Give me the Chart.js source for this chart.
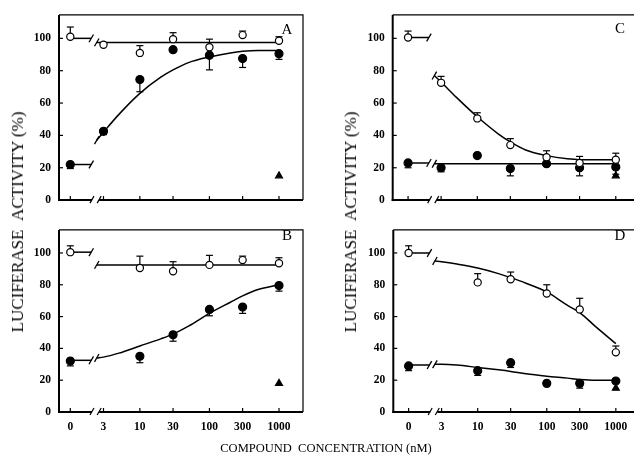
<!DOCTYPE html>
<html>
<head>
<meta charset="utf-8">
<script src="https://cdn.jsdelivr.net/npm/chart.js@4.4.0/dist/chart.umd.min.js"></script>
<style>
  html, body { margin: 0; padding: 0; background: #fff; }
  body { width: 634px; height: 460px; position: relative; overflow: hidden; font-family: "Liberation Serif", "DejaVu Serif", serif; color: #000; }
  canvas { position: absolute; }
  .lbl { position: absolute; white-space: nowrap; transform: translate(-50%, -50%); }
  .ytitle { position: absolute; white-space: nowrap; font-size: 17px; transform: translate(-50%, -50%) rotate(-90deg); }
  .xtitle { position: absolute; white-space: nowrap; font-size: 12.5px; letter-spacing: 0; transform: translate(-50%, -50%); }
  .letter { font-size: 15px; }
</style>
</head>
<body>
<canvas id="panelA" width="317" height="215" style="left:0;top:0"></canvas>
<canvas id="panelB" width="317" height="245" style="left:0;top:215px"></canvas>
<canvas id="panelC" width="330" height="215" style="left:317px;top:0"></canvas>
<canvas id="panelD" width="330" height="245" style="left:317px;top:215px"></canvas>

<div class="ytitle" style="left:18px;top:222px">LUCIFERASE&nbsp;&nbsp;ACTIVITY (%)</div>
<div class="ytitle" style="left:351px;top:222px">LUCIFERASE&nbsp;&nbsp;ACTIVITY (%)</div>
<div class="xtitle" style="left:326px;top:448px">COMPOUND&nbsp;&nbsp;CONCENTRATION (nM)</div>
<div class="lbl letter" style="left:287px;top:29px">A</div>
<div class="lbl letter" style="left:287px;top:235px">B</div>
<div class="lbl letter" style="left:620px;top:28px">C</div>
<div class="lbl letter" style="left:620px;top:235px">D</div>

<script>
  // x categories (nM) and tick labels; "0" is drawn at position 1 on the log axis
  const conc = [0, 3, 10, 30, 100, 300, 1000];
  const xTickLabels = ['0', '3', '10', '30', '100', '300', '1000'];
  const yTicks = [0, 20, 40, 60, 80, 100];
  const fitConc = [2.4, 3, 5, 10, 20, 30, 50, 100, 200, 300, 500, 1000];

  // Panel A
  const openA = [101, 96, 91, 99.5, 94.5, 102, 98.5];
  const openAErr = [107, null, 95.5, 103.5, 99.5, 104.5, 101];
  const filledA = [22, 42.5, 74.5, 93, 89.5, 87.5, 90.5];
  const filledAErr = [19.5, 40.5, 67, null, 80.5, 82, 87];
  const triA = [null, null, null, null, null, null, 15];
  const zeroA = [100, 22];
  const fitOpenA = [97.5, 97.5, 97.5, 97.5, 97.5, 97.5, 97.5, 97.5, 97.5, 97.5, 97.5, 97.5];
  const fitFilledA = [37, 42, 53, 66, 76, 80.5, 85, 88.5, 91, 92, 92.5, 92.5];

  // Panel B
  const openB = [100.5, null, 90.5, 88.5, 92.5, 95.5, 93.5];
  const openBErr = [104.5, null, 98, 94.5, 98.5, 98, 97];
  const filledB = [32, null, 35, 48.5, 64.5, 66, 79.5];
  const filledBErr = [29, null, 31, 44.5, 60.5, 62, 76];
  const triB = [null, null, null, null, null, null, 18];
  const zeroB = [100.5, 32.5];
  const fitOpenB = [92.5, 92.5, 92.5, 92.5, 92.5, 92.5, 92.5, 92.5, 92.5, 92.5, 92.5, 92.5];
  const fitFilledB = [34, 34.5, 37, 41.5, 46, 49, 54, 62, 69, 73, 77, 80];

  // Panel C
  const openC = [100.5, 72.5, 50.5, 34, 26.5, 23, 25];
  const openCErr = [104.5, 76.5, 54, 38, 30.5, 27, 29];
  const filledC = [23, 20, 27.5, 19.5, 22.5, 20, 20.5];
  const filledCErr = [20, 17.5, null, 15, null, 15, 16];
  const triC = [null, null, null, null, null, null, 15];
  const zeroC = [100.5, 23];
  const fitOpenC = [77, 73, 63.5, 51.5, 41, 36, 31, 27.5, 25.5, 25, 25, 25];
  const fitFilledC = [22.5, 22.5, 22.5, 22.5, 22.5, 22.5, 22.5, 22.5, 22.5, 22.5, 22.5, 22.5];

  // Panel D
  const openD = [100, null, 81.5, 83.5, 74.5, 64.5, 37.5];
  const openDErr = [104.5, null, 87, 88, 80, 71.5, 41.5];
  const filledD = [29, null, 26, 31, 18, 18, 19.5];
  const filledDErr = [26, null, 23, 28, null, 15, null];
  const triD = [null, null, null, null, null, null, 15];
  const zeroD = [100, 29.5];
  const fitOpenD = [95, 94.5, 93, 90.5, 87, 84.5, 81, 75.5, 67, 62.5, 54, 43];
  const fitFilledD = [30, 30, 29.5, 28, 26.5, 25.5, 24, 22.5, 21.3, 20.5, 20, 20];

  const ZERO_AT = 1;        // where "0" sits on the log axis
  const ZERO_END = 2.0;     // end of the short line from 0 to the break
  const BREAK_FROM = 2.05;  // gap in the x axis
  const BREAK_TO = 2.6;

  Chart.defaults.font.family = '"Liberation Serif", "DejaVu Serif", serif';
  Chart.defaults.color = '#000';

  const xPos = c => (c === 0 ? ZERO_AT : c);

  function line(ctx, x1, y1, x2, y2) {
    ctx.beginPath();
    ctx.moveTo(x1, y1);
    ctx.lineTo(x2, y2);
    ctx.stroke();
  }

  // box, inside ticks and the broken x axis
  const framePlugin = {
    id: 'frame',
    afterDraw(chart) {
      const { ctx, chartArea: a, scales: { x, y } } = chart;
      ctx.save();
      ctx.strokeStyle = '#000';
      ctx.lineWidth = 1.2;
      ctx.beginPath();
      ctx.moveTo(a.left, a.top);
      ctx.lineTo(a.right, a.top);
      ctx.lineTo(a.right, a.bottom);
      ctx.stroke();

      ctx.lineWidth = 2;
      line(ctx, a.left, a.top, a.left, a.bottom + 1);
      const g0 = x.getPixelForValue(BREAK_FROM);
      const g1 = x.getPixelForValue(BREAK_TO);
      line(ctx, a.left - 1, a.bottom, g0, a.bottom);
      line(ctx, g1, a.bottom, a.right, a.bottom);

      ctx.lineWidth = 1.2;
      [g0, g1].forEach(px => line(ctx, px - 2, a.bottom + 3, px + 2, a.bottom - 4));
      x.ticks.forEach(t => {
        const px = x.getPixelForValue(t.value);
        line(ctx, px, a.bottom, px, a.bottom - 4);
      });
      y.ticks.forEach(t => {
        const py = y.getPixelForValue(t.value);
        line(ctx, a.left, py, a.left + 4, py);
      });
      ctx.restore();
    }
  };

  // one-sided error bars, read from dataset.errTo
  const errorBarPlugin = {
    id: 'errorBars',
    beforeDatasetsDraw(chart) {
      const { ctx, scales: { x, y } } = chart;
      ctx.save();
      ctx.strokeStyle = '#000';
      ctx.lineWidth = 1.2;
      chart.data.datasets.forEach(ds => {
        if (!ds.errTo) return;
        ds.data.forEach((p, j) => {
          const e = ds.errTo[j];
          if (p.y == null || e == null) return;
          const px = x.getPixelForValue(p.x);
          const py = y.getPixelForValue(p.y);
          const pe = y.getPixelForValue(e);
          line(ctx, px, py, px, pe);
          line(ctx, px - 3.5, pe, px + 3.5, pe);
        });
      });
      ctx.restore();
    }
  };

  function pointSet(vals, errs, kind) {
    const ds = {
      data: conc.map((c, i) => ({ x: xPos(c), y: vals[i] })),
      showLine: false,
      order: 0,
      pointStyle: kind === 'tri' ? 'triangle' : 'circle',
      pointRadius: kind === 'open' ? 3.6 : 4,
      pointBackgroundColor: kind === 'open' ? '#fff' : '#000',
      pointBorderColor: '#000',
      pointBorderWidth: 1.2
    };
    if (errs) ds.errTo = errs;
    return ds;
  }

  const slash = { pointStyle: 'line', pointRotation: -60, pointBorderColor: '#000', pointBorderWidth: 1.3 };

  function zeroLine(v) {
    return Object.assign({
      data: [{ x: ZERO_AT, y: v }, { x: ZERO_END, y: v }],
      borderColor: '#000', borderWidth: 1.5, order: 1,
      pointRadius: [0, 4.5]
    }, slash);
  }

  function fitLine(vals) {
    return Object.assign({
      data: fitConc.map((c, i) => ({ x: c, y: vals[i] })),
      borderColor: '#000', borderWidth: 1.5, order: 1,
      cubicInterpolationMode: 'monotone',
      pointRadius: fitConc.map((c, i) => (i === 0 ? 4.5 : 0))
    }, slash);
  }

  function makePanel(id, box, xRange, showXLabels, sets) {
    const cv = document.getElementById(id);
    new Chart(cv, {
      type: 'line',
      data: { datasets: sets },
      options: {
        responsive: false,
        animation: false,
        devicePixelRatio: 1,
        layout: { padding: { left: 0, top: box.top, right: cv.width - box.right, bottom: 0 } },
        plugins: { legend: { display: false }, tooltip: { enabled: false } },
        scales: {
          x: {
            type: 'logarithmic',
            min: xRange[0],
            max: xRange[1],
            afterBuildTicks: s => { s.ticks = conc.map(c => ({ value: xPos(c) })); },
            afterFit: s => { s.height = cv.height - box.bottom; },
            grid: { display: false, drawTicks: false },
            border: { display: false },
            ticks: {
              display: showXLabels,
              autoSkip: false,
              maxRotation: 0,
              padding: 8,
              font: { size: 11.5, weight: 'bold' },
              callback: (v, i) => xTickLabels[i]
            }
          },
          y: {
            min: 0,
            max: 114.5,
            afterBuildTicks: s => { s.ticks = yTicks.map(v => ({ value: v })); },
            afterFit: s => { s.width = box.left; },
            grid: { display: false, drawTicks: false },
            border: { display: false },
            ticks: { padding: 8, font: { size: 11.5, weight: 'bold' } }
          }
        }
      },
      plugins: [framePlugin, errorBarPlugin]
    });
  }

  makePanel('panelA', { left: 59, top: 14, right: 303, bottom: 207 }, [0.688, 2213], false, [
    pointSet(openA, openAErr, 'open'),
    pointSet(filledA, filledAErr, 'filled'),
    pointSet(triA, null, 'tri'),
    zeroLine(zeroA[0]), zeroLine(zeroA[1]),
    fitLine(fitOpenA), fitLine(fitFilledA)
  ]);

  makePanel('panelB', { left: 59, top: 5, right: 303, bottom: 197 }, [0.688, 2213], true, [
    pointSet(openB, openBErr, 'open'),
    pointSet(filledB, filledBErr, 'filled'),
    pointSet(triB, null, 'tri'),
    zeroLine(zeroB[0]), zeroLine(zeroB[1]),
    fitLine(fitOpenB), fitLine(fitFilledB)
  ]);

  makePanel('panelC', { left: 75.7, top: 14, right: 319.7, bottom: 207 }, [0.629, 2005], false, [
    pointSet(openC, openCErr, 'open'),
    pointSet(filledC, filledCErr, 'filled'),
    pointSet(triC, null, 'tri'),
    zeroLine(zeroC[0]), zeroLine(zeroC[1]),
    fitLine(fitOpenC), fitLine(fitFilledC)
  ]);

  makePanel('panelD', { left: 76.3, top: 5, right: 319.7, bottom: 197 }, [0.629, 2005], true, [
    pointSet(openD, openDErr, 'open'),
    pointSet(filledD, filledDErr, 'filled'),
    pointSet(triD, null, 'tri'),
    zeroLine(zeroD[0]), zeroLine(zeroD[1]),
    fitLine(fitOpenD), fitLine(fitFilledD)
  ]);
</script>
</body>
</html>
